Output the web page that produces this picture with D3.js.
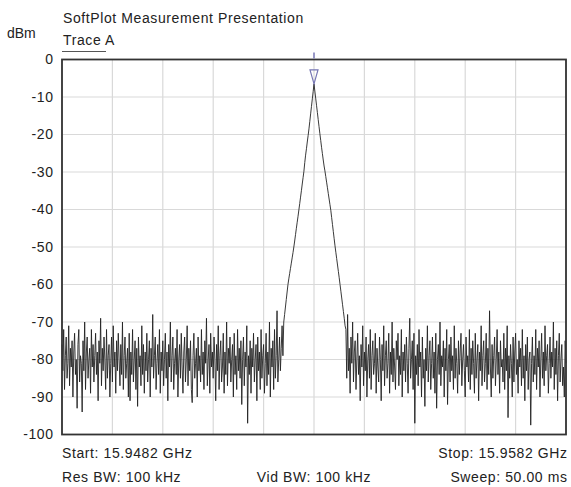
<!DOCTYPE html>
<html><head><meta charset="utf-8">
<script src="https://cdn.jsdelivr.net/npm/d3@7"></script>
<style>
body{margin:0;background:#fff;}
text{font-family:"Liberation Sans",Arial,sans-serif;fill:#222;font-size:14px;letter-spacing:0.6px;}
</style></head>
<body><svg id="c" width="571" height="487"></svg>
<script>
const title = "SoftPlot Measurement Presentation";
const traceName = "Trace A";
const yUnit = "dBm";
const yTicks = [0,-10,-20,-30,-40,-50,-60,-70,-80,-90,-100];
const startGHz = 15.9482, stopGHz = 15.9582;
const footer = {start:"Start: 15.9482 GHz", stop:"Stop: 15.9582 GHz", rbw:"Res BW: 100 kHz", vbw:"Vid BW: 100 kHz", sweep:"Sweep: 50.00 ms"};

const leftNoise = [
-76,-83,-72,-88,-79,-74,-85,-81,-71,-87,-77,-82,-75,-90,-78,-73,-84,-80,-93,-76,
-72,-86,-79,-81,-94,-75,-83,-70,-88,-78,-74,-85,-80,-77,-89,-72,-82,-76,-86,-79,
-73,-84,-78,-91,-75,-81,-69,-87,-77,-83,-74,-80,-88,-72,-85,-79,-76,-90,-81,-74,
-86,-71,-82,-78,-89,-75,-83,-73,-80,-87,-76,-84,-70,-88,-79,-74,-85,-81,-77,-90,
-73,-91,-78,-84,-72,-86,-80,-75,-88,-77,-92.5,-74,-82,-79,-87,-71,-84,-76,-89,-78,
-83,-73,-86,-80,-75,-90,-77,-82,-68,-85,-79,-74,-88,-81,-76,-84,-72,-89,-78,-83,
-75,-87,-80,-73,-85,-78,-91,-76,-82,-70,-86,-79,-74,-88,-81,-77,-84,-72,-90,-80,
-76,-85,-73,-82,-89,-78,-74,-86,-80,-71,-87,-77,-83,-75,-88,-91.5,-79,-73,-85,-81,
-77,-90,-74,-83,-79,-86,-72,-84,-78,-88,-75,-81,-69,-87,-80,-76,-89,-73,-82,-78,
-85,-74,-80,-91,-76,-83,-71,-88,-79,-75,-86,-82,-73,-89,-78,-84,-70,-87,-77,-81,
-74,-86,-80,-76,-90,-73,-84,-79,-88,-72,-83,-77,-85,-75,-92,-80,-74,-87,-78,-82,
-71,-97,-79,-84,-75,-89,-77,-82,-73,-86,-80,-76,-91,-74,-83,-78,-88,-72,-85,-79,
-76,-89,-81,-73,-87,-78,-84,-70,-90,-77,-82,-75,-88,-72,-85,-79,-67,-86,-80,-74,
-83,-77,-71,-79];
const leftSkirt = [
-70,-68,-66,-64,-62,-60,-58.5,-57.1,-55.7,-54.3,-52.9,-51.5,-50,-48.4,-46.7,-45,-43.4,-41.8,
-40.1,-38.4,-36.7,-35,-33.2,-31.5,-29.8,-27.5,-25.5,-23.8,-22,-20.3,-18.5,-16.5,-14.5,-12.5,-10.5,-8.5];
const peakValue = [-6.5];
const rightSkirt = [
-8.4,-10.3,-12.2,-14.1,-16,-17.9,-19.8,-21.6,-23.4,-25.1,-26.8,-28.4,-29.7,-31.2,-32.7,-34.2,-35.7,-37.2,-38.7,
-40.2,-42.1,-44,-45.9,-47.8,-49.7,-51.4,-53.1,-54.8,-56.5,-58.2,-60,-61.8,-63.6,-65.4,-67.2,-69,-71];
const rightNoise = [
-72,-85,-68,-83,-77,-89,-74,-81,-70,-86,-78,-75,-88,-80,-73,-84,-79,-91,-76,-82,
-71,-87,-78,-83,-74,-90,-80,-76,-85,-72,-88,-79,-75,-84,-81,-73,-89,-77,-82,-86,
-74,-80,-91,-76,-83,-71,-87,-79,-75,-85,-81,-73,-89,-78,-84,-70,-86,-77,-82,-88,
-75,-80,-73,-87,-79,-84,-72,-90,-78,-83,-76,-86,-74,-81,-89,-77,-69,-85,-80,-75,
-88,-73,-97,-79,-84,-76,-87,-72,-82,-78,-90,-74,-85,-80,-92.5,-77,-83,-71,-86,-79,
-75,-88,-81,-74,-85,-78,-89,-73,-93,-80,-76,-84,-70,-87,-79,-82,-75,-90,-77,-83,
-72,-92,-80,-76,-86,-74,-83,-79,-88,-71,-85,-77,-81,-89,-75,-84,-78,-73,-87,-80,
-76,-83,-90,-74,-82,-79,-86,-72,-88,-77,-84,-75,-81,-89,-73,-85,-80,-76,-91,-78,
-83,-71,-87,-79,-75,-86,-81,-73,-88,-77,-84,-67,-82,-90,-76,-85,-79,-74,-87,-80,
-72,-84,-78,-89,-75,-82,-80,-86,-73,-88,-77,-83,-71,-95.5,-79,-85,-76,-81,-90,-74,
-86,-78,-73,-84,-80,-89,-75,-82,-77,-87,-72,-85,-79,-91,-76,-83,-74,-88,-80,-78,
-97.5,-81,-74,-86,-79,-84,-72,-88,-77,-82,-75,-90,-80,-73,-85,-78,-87,-71,-83,-79,
-76,-89,-81,-74,-85,-78,-82,-70,-88,-77,-84,-75,-91,-79,-73,-86,-80,-76,-87,-82,
-90,-75,-81];
const traceA = [].concat(leftNoise, leftSkirt, peakValue, rightSkirt, rightNoise);
const markerIndex = leftNoise.length + leftSkirt.length;

const svg = d3.select("#c");
const L=62, R=566, T=59.5, B=434.5;
const n = traceA.length;
const freq = traceA.map((v,i)=> startGHz + (stopGHz-startGHz)*i/(n-1));
const x = d3.scaleLinear().domain([startGHz, stopGHz]).range([L,R]);
const y = d3.scaleLinear().domain([-100,0]).range([B,T]);

// grid
const xt = d3.range(11).map(i=> startGHz + (stopGHz-startGHz)*i/10);
svg.append("g").selectAll("line").data(xt).join("line")
  .attr("x1",d=>x(d)).attr("x2",d=>x(d)).attr("y1",T).attr("y2",B)
  .attr("stroke","#d9d9d9").attr("stroke-width",1.2);
svg.append("g").selectAll("line").data(yTicks).join("line")
  .attr("x1",L).attr("x2",R).attr("y1",d=>y(d)).attr("y2",d=>y(d))
  .attr("stroke","#d9d9d9").attr("stroke-width",1.2);

// y axis labels
const ya = d3.axisLeft(y).tickValues(yTicks).tickSize(0).tickPadding(9).tickFormat(d=>String(d));
const g = svg.append("g").attr("transform",`translate(${L},0)`).call(ya);
g.select(".domain").remove();
g.selectAll("text").attr("font-size",null).attr("font-family",null).attr("fill","#222").attr("dx","0.6");
g.attr("font-size",null).attr("font-family",null);

// trace
const line = d3.line().x((d,i)=>x(freq[i])).y(d=>y(d));
svg.append("path").datum(traceA).attr("d",line)
  .attr("fill","none").attr("stroke","#222").attr("stroke-width",0.9);

// border
svg.append("rect").attr("x",L).attr("y",T).attr("width",R-L).attr("height",B-T)
  .attr("fill","none").attr("stroke","#333").attr("stroke-width",1.8);

// marker
const mx = x(freq[markerIndex]), my = y(traceA[markerIndex]);
svg.append("line").attr("x1",mx).attr("x2",mx).attr("y1",T-7).attr("y2",T-1)
  .attr("stroke","#7676b4").attr("stroke-width",1.5);
svg.append("path").attr("d",`M${mx-4},${my-14}L${mx+4},${my-14}L${mx},${my}Z`)
  .attr("fill","none").attr("stroke","#7676b4").attr("stroke-width",1.2);

// texts
svg.append("text").attr("x",63).attr("y",23).text(title);
svg.append("text").attr("x",7).attr("y",38).style("letter-spacing","0px").text(yUnit);
svg.append("text").attr("x",63).attr("y",45).text(traceName);
svg.append("line").attr("x1",62).attr("x2",106).attr("y1",51.5).attr("y2",51.5)
  .attr("stroke","#555").attr("stroke-width",1);
svg.append("text").attr("x",62).attr("y",458).text(footer.start);
svg.append("text").attr("x",62).attr("y",482).text(footer.rbw);
svg.append("text").attr("x",(L+R)/2).attr("y",482).attr("text-anchor","middle").text(footer.vbw);
svg.append("text").attr("x",567.6).attr("y",458).attr("text-anchor","end").text(footer.stop);
svg.append("text").attr("x",567.6).attr("y",482).attr("text-anchor","end").text(footer.sweep);
</script></body></html>
